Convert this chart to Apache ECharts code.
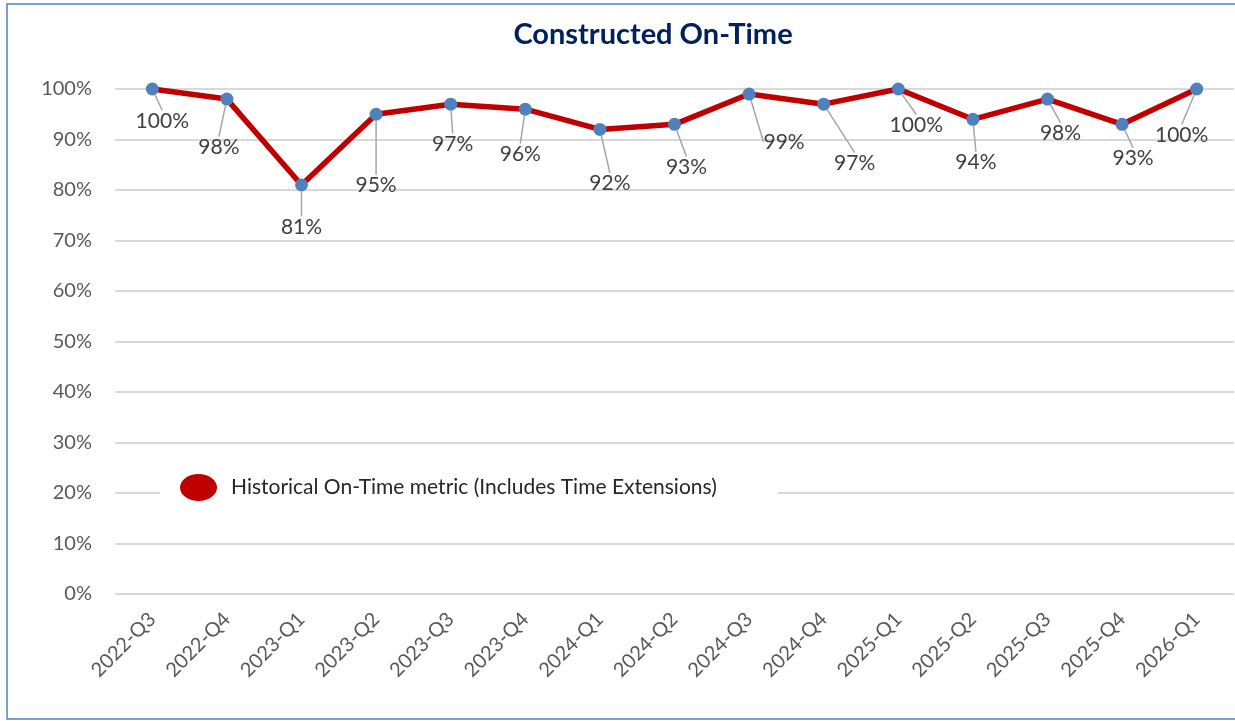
<!DOCTYPE html>
<html><head><meta charset="utf-8">
<script src="https://cdn.jsdelivr.net/npm/echarts@6/dist/echarts.min.js"></script>
<style>html,body{margin:0;padding:0;background:#fff}#c{width:1235px;height:721px}</style>
</head><body><div id="c"></div>
<script>
var categories = ['2022-Q3','2022-Q4','2023-Q1','2023-Q2','2023-Q3','2023-Q4','2024-Q1','2024-Q2','2024-Q3','2024-Q4','2025-Q1','2025-Q2','2025-Q3','2025-Q4','2026-Q1'];
var onTimeValues = [100, 98, 81, 95, 97, 96, 92, 93, 99, 97, 100, 94, 98, 93, 100];
var seriesName = 'Historical On-Time metric (Includes Time Extensions)';
var yTicks = [0,10,20,30,40,50,60,70,80,90,100];
// label placement (style): offset of each data label centre from its point
var labelOffsets = [[10,32],[-8,48],[0,42],[0,71],[2,40],[-5,45],[10,54],[12,43],[35,48],[31,59],[18,36],[3,43],[13,34],[11,34],[-15,46]];

var FONT = 'Lato';
var chart = echarts.init(document.getElementById('c'));
chart.setOption({
  animation: false,
  backgroundColor: '#fff',
  title: {
    text: 'Constructed On-Time', left: 648, top: 15, textAlign: 'center',
    textStyle: {fontFamily: FONT, fontWeight: 'bold', fontSize: 29, color: '#002060'}
  },
  grid: {left: 115, right: 1, top: 89, bottom: 127},
  legend: {
    data: [{name: seriesName, icon: 'path://M0,13.5 a18.5,13.5 0 1,0 37,0 a18.5,13.5 0 1,0 -37,0z', itemStyle: {color: '#C00000'}}],
    left: 160, top: 472,
    backgroundColor: '#fff', padding: [2, 61, 2, 20],
    itemWidth: 37, itemHeight: 27, itemGap: 10,
    textStyle: {fontFamily: FONT, fontSize: 21, color: '#262626', padding: [0,0,0,9]}
  },
  xAxis: {
    type: 'category', data: categories, boundaryGap: true,
    axisLine: {show: false}, axisTick: {show: false},
    axisLabel: {rotate: 45, margin: 22, fontFamily: FONT, fontSize: 20, color: '#595959', interval: 0}
  },
  yAxis: {
    type: 'value', min: yTicks[0], max: yTicks[yTicks.length-1], interval: 10,
    axisLine: {show: false}, axisTick: {show: false},
    axisLabel: {formatter: '{value}%', margin: 23, fontFamily: FONT, fontSize: 20, color: '#595959'},
    splitLine: {lineStyle: {color: '#D9D9D9', width: 2}}
  },
  graphic: [{
    type: 'rect', z: -10, silent: true,
    shape: {x: 7, y: 4, width: 1240, height: 715},
    style: {fill: 'none', stroke: '#4F81BD', lineWidth: 1.5}
  }],
  series: [{
    name: seriesName, type: 'line', data: onTimeValues,
    symbol: 'circle', symbolSize: 13,
    itemStyle: {color: '#4F81BD'},
    lineStyle: {color: '#C00000', width: 5.5},
    z: 3,
    label: {
      show: true, position: 'inside', formatter: '{c}%',
      fontFamily: FONT, fontSize: 21, color: '#404040'
    },
    labelLine: {show: true, lineStyle: {color: '#A6A6A6', width: 1.5}},
    labelLayout: function (p) {
      var o = labelOffsets[p.dataIndex];
      return {
        x: p.rect.x + p.rect.width / 2 + o[0],
        y: p.rect.y + p.rect.height / 2 + o[1],
        align: 'center', verticalAlign: 'middle'
      };
    }
  }]
});
</script></body></html>
